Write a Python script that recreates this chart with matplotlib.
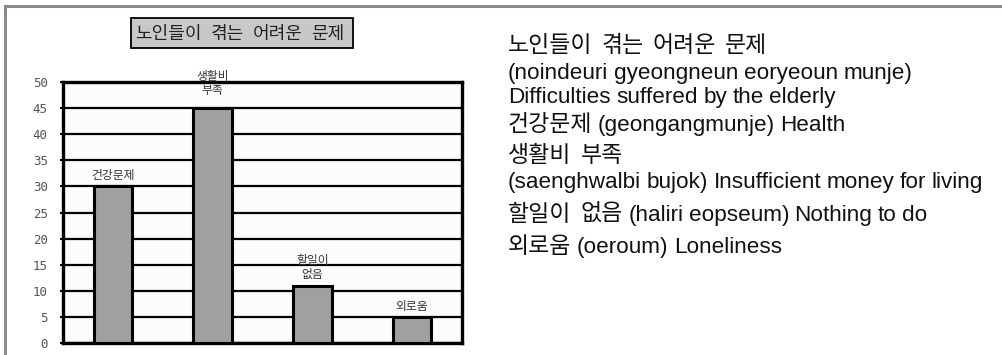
import matplotlib

matplotlib.use("Agg")
import matplotlib.pyplot as plt
from matplotlib.lines import Line2D
from matplotlib.patches import Rectangle

# chart data
categories = ["건강문제", "생활비\n부족", "할일이\n없음", "외로움"]
values = [30, 45, 11, 5]
y_ticks = [0, 5, 10, 15, 20, 25, 30, 35, 40, 45, 50]
chart_title = "노인들이 겪는 어려운 문제"

# glossary on the right
gloss_lines = [
    "노인들이 겪는 어려운 문제",
    "(noindeuri gyeongneun eoryeoun munje)",
    "Difficulties suffered by the elderly",
    "건강문제 (geongangmunje) Health",
    "생활비 부족",
    "(saenghwalbi bujok) Insufficient money for living",
    "할일이 없음 (haliri eopseum) Nothing to do",
    "외로움 (oeroum) Loneliness",
]
gloss_baselines = [52, 79, 103, 131, 162, 188, 221, 253]

W, H = 1003, 355
KR = ["Noto Sans CJK KR", "DejaVu Sans"]
EN = ["Liberation Sans", "DejaVu Sans"]

fig = plt.figure(figsize=(W / 100, H / 100), dpi=100)
fig.patch.set_facecolor("white")
renderer = fig.canvas.get_renderer()


def is_hangul(word):
    return any("\uac00" <= ch <= "\ud7a3" for ch in word)


def draw_words(x, baseline, text, kr_size, en_size, kr_gap, en_gap, color):
    """Lay words out left to right (pixel coords, top-down), return extents."""
    prev = None
    boxes = []
    for word in text.split(" "):
        kind = "kr" if is_hangul(word) else "en"
        if prev is not None:
            x += kr_gap if kind == prev == "kr" else en_gap
        t = fig.text(x / W, 1 - baseline / H, word, ha="left", va="baseline",
                     fontsize=kr_size if kind == "kr" else en_size,
                     family=KR if kind == "kr" else EN, color=color)
        bb = t.get_window_extent(renderer)
        boxes.append(bb)
        x = bb.x1
        prev = kind
    return boxes


# grey frame lines (top and left)
fig.add_artist(Line2D([5 / W, 1], [1 - 6 / H, 1 - 6 / H], color="#8a8a8a", lw=2.2))
fig.add_artist(Line2D([5 / W, 5 / W], [0, 1 - 6 / H], color="#8a8a8a", lw=2.2))

ax = fig.add_axes([63 / W, 12 / H, 399 / W, 261 / H])
ax.set_facecolor("#fcfcfc")
positions = [i + 0.5 for i in range(len(values))]
ax.bar(positions, values, width=0.385, color="#a0a0a0", edgecolor="black",
       linewidth=2.2, zorder=3)
for x, v, label in zip(positions, values, categories):
    lift = 8 if v == max(values) else 3
    ax.annotate(label, xy=(x, v), xytext=(0, lift), textcoords="offset points",
                ha="center", va="bottom", fontsize=8.5, family=KR,
                color="#333333", linespacing=1.1, annotation_clip=False,
                zorder=6)

ax.set_xlim(0, 4)
ax.set_ylim(0, 50)
ax.set_xticks([])
ax.set_yticks(y_ticks)
ax.grid(axis="y", color="black", linewidth=1.6, zorder=1)
ax.set_axisbelow(True)
for spine in ax.spines.values():
    spine.set_linewidth(2.4)
ax.tick_params(axis="y", length=2, width=1.5, pad=9, labelsize=9,
               labelcolor="#555555")
for tick in ax.get_yticklabels():
    tick.set_family("DejaVu Sans Mono")

# boxed chart title
title_boxes = draw_words(135, 39, chart_title, 13, 13, 9, 9, "#222222")
x0 = min(b.x0 for b in title_boxes) - 4
x1 = max(b.x1 for b in title_boxes) + 8
y_top = H - 18
y_bot = H - 48
fig.add_artist(Rectangle((x0 / W, y_bot / H), (x1 - x0) / W, (y_top - y_bot) / H,
                         transform=fig.transFigure, facecolor="#c8c8c8",
                         edgecolor="black", linewidth=1.3, zorder=0))

for line, base in zip(gloss_lines, gloss_baselines):
    draw_words(508, base, line, 16.5, 16.2, 9, 5.5, "#111111")

fig.savefig("out.png", dpi=100)
